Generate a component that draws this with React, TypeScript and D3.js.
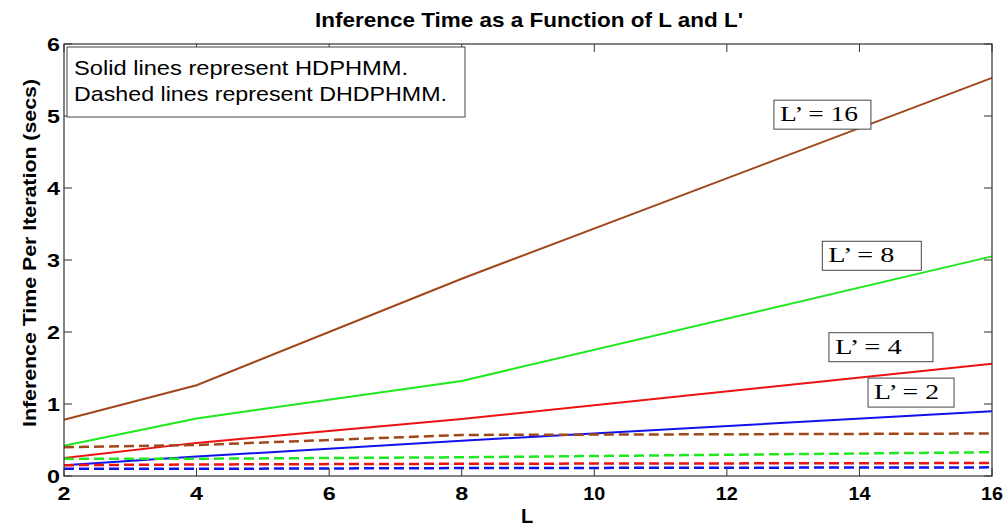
import * as d3 from "d3";

const lValues = [2, 4, 8, 16];

// solid = HDPHMM, dashed = DHDPHMM, one pair per L'
const hdp16 = [0.78, 1.26, 2.74, 5.53];
const hdp8 = [0.42, 0.8, 1.32, 3.05];
const hdp4 = [0.25, 0.46, 0.79, 1.56];
const hdp2 = [0.15, 0.27, 0.49, 0.9];
const dhdp16 = [0.4, 0.43, 0.57, 0.59];
const dhdp8 = [0.24, 0.24, 0.26, 0.33];
const dhdp4 = [0.15, 0.16, 0.17, 0.18];
const dhdp2 = [0.1, 0.1, 0.11, 0.12];

const xTicks = [2, 4, 6, 8, 10, 12, 14, 16];
const yTicks = [0, 1, 2, 3, 4, 5, 6];

const series = [
  { name: "hdp16", values: hdp16, color: "#a0481c", dashed: false },
  { name: "hdp8", values: hdp8, color: "#1ee81e", dashed: false },
  { name: "hdp4", values: hdp4, color: "#ee1111", dashed: false },
  { name: "hdp2", values: hdp2, color: "#1111ee", dashed: false },
  { name: "dhdp16", values: dhdp16, color: "#a0481c", dashed: true },
  { name: "dhdp8", values: dhdp8, color: "#1ee81e", dashed: true },
  { name: "dhdp4", values: dhdp4, color: "#ee1111", dashed: true },
  { name: "dhdp2", values: dhdp2, color: "#1111ee", dashed: true },
];

// L' annotation boxes, top-left corner in data units
const annotations = [
  { text: "L’ = 16", x: 12.71, y: 5.22, w: 97, tw: 78 },
  { text: "L’ = 8", x: 13.44, y: 3.26, w: 99, tw: 66 },
  { text: "L’ = 4", x: 13.54, y: 1.99, w: 104, tw: 67 },
  { text: "L’ = 2", x: 14.13, y: 1.36, w: 86, tw: 65 },
];

const W = 1008;
const H = 529;
const m = { left: 64, right: 16, top: 44, bottom: 53 };

export default function App() {
  const x = d3.scaleLinear().domain([2, 16]).range([m.left, W - m.right]);
  const y = d3.scaleLinear().domain([0, 6]).range([H - m.bottom, m.top]);
  const line = d3
    .line<number>()
    .x((_, i) => x(lValues[i]))
    .y((d) => y(d));

  const x0 = x(2);
  const x1 = x(16);
  const y0 = y(0);
  const y1 = y(6);
  const tick = 8;

  return (
    <svg
      width={W}
      height={H}
      style={{ position: "absolute", left: 0, top: 0, background: "#fff" }}
      fontFamily="Liberation Sans, Arial, sans-serif"
    >
      <text x={315} y={27} fontWeight="bold" fontSize={21} textLength={428} lengthAdjust="spacingAndGlyphs">
        Inference Time as a Function of L and L'
      </text>

      {series.map((s) => (
        <path
          key={s.name}
          d={line(s.values) ?? ""}
          fill="none"
          stroke={s.color}
          strokeWidth={s.dashed ? 2.5 : 2}
          strokeDasharray={s.dashed ? "10 5" : undefined}
        />
      ))}

      {/* axes box and ticks */}
      <rect x={x0} y={y1} width={x1 - x0} height={y0 - y1} fill="none" stroke="#333" strokeWidth={1.2} />
      {xTicks.map((t) => (
        <g key={"x" + t}>
          <line x1={x(t)} x2={x(t)} y1={y0} y2={y0 - tick} stroke="#333" />
          <line x1={x(t)} x2={x(t)} y1={y1} y2={y1 + tick} stroke="#333" />
          <text
            x={x(t) - (t >= 10 ? 11 : 6.5)}
            y={y0 + 24}
            fontWeight="bold"
            fontSize={19}
            textLength={t >= 10 ? 22 : 13}
            lengthAdjust="spacingAndGlyphs"
          >
            {t}
          </text>
        </g>
      ))}
      {yTicks.map((t) => (
        <g key={"y" + t}>
          <line x1={x0} x2={x0 + tick} y1={y(t)} y2={y(t)} stroke="#333" />
          <line x1={x1} x2={x1 - tick} y1={y(t)} y2={y(t)} stroke="#333" />
          <text
            x={x0 - 17}
            y={y(t) + 7}
            fontWeight="bold"
            fontSize={19}
            textLength={13}
            lengthAdjust="spacingAndGlyphs"
          >
            {t}
          </text>
        </g>
      ))}

      <text x={527} y={523} textAnchor="middle" fontWeight="bold" fontSize={20}>
        L
      </text>
      <text
        transform={`translate(36,${427}) rotate(-90)`}
        fontWeight="bold"
        fontSize={19}
        textLength={348}
        lengthAdjust="spacingAndGlyphs"
      >
        Inference Time Per Iteration (secs)
      </text>

      {/* legend note */}
      <rect x={67} y={47} width={398} height={70} fill="#fff" stroke="#444" />
      <text x={74} y={75} fontSize={21} textLength={334} lengthAdjust="spacingAndGlyphs">
        Solid lines represent HDPHMM.
      </text>
      <text x={74} y={101} fontSize={21} textLength={373} lengthAdjust="spacingAndGlyphs">
        Dashed lines represent DHDPHMM.
      </text>

      {annotations.map((a) => (
        <g key={a.text} transform={`translate(${x(a.x)},${y(a.y)})`}>
          <rect x={0} y={0} width={a.w} height={29} fill="#fff" stroke="#444" />
          <text
            x={6}
            y={21}
            fontSize={22}
            fontFamily="Liberation Serif, Times New Roman, serif"
            textLength={a.tw}
            lengthAdjust="spacingAndGlyphs"
          >
            {a.text}
          </text>
        </g>
      ))}
    </svg>
  );
}
